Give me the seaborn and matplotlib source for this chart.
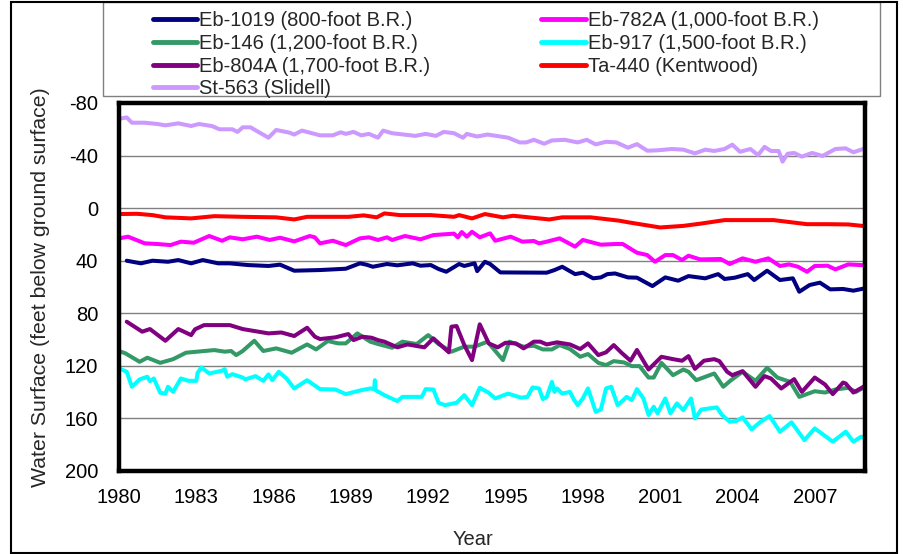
import matplotlib
matplotlib.use('Agg')
import matplotlib.pyplot as plt
from matplotlib.lines import Line2D
from matplotlib.patches import Rectangle
import seaborn as sns
import pandas as pd

# well records, depth to water in feet below ground surface
eb1019_year = [1980.3, 1980.85, 1981.3, 1981.9, 1982.3, 1982.8, 1983.25, 1983.85, 1984.3, 1985.0,
               1985.8, 1986.25, 1986.8, 1987.8, 1988.8, 1989.35, 1989.6, 1989.85, 1990.4, 1990.8,
               1991.4, 1991.7, 1992.1, 1992.4, 1992.7, 1993.2, 1993.4, 1993.8, 1993.9, 1994.2,
               1994.4, 1994.8, 1996.6, 1996.9, 1997.2, 1997.7, 1998.0, 1998.4, 1998.7, 1998.95,
               1999.25, 1999.75, 2000.1, 2000.7, 2001.2, 2001.7, 2002.1, 2002.75, 2003.25, 2003.5,
               2003.9, 2004.4, 2004.65, 2005.15, 2005.65, 2006.15, 2006.4, 2006.8, 2007.2, 2007.6,
               2008.1, 2008.5, 2008.95]
eb1019_depth = [40.0, 42.0, 40.0, 40.8, 39.5, 42.0, 39.5, 42.0, 42.0, 43.3,
                44.0, 43.0, 47.6, 47.1, 46.1, 42.0, 43.0, 44.6, 42.5, 43.5,
                42.0, 43.8, 43.3, 46.3, 48.4, 42.5, 44.0, 42.0, 47.9, 40.8,
                42.5, 48.9, 49.1, 47.1, 44.6, 50.2, 49.1, 53.4, 52.7, 50.2,
                49.7, 52.7, 52.9, 59.3, 52.7, 55.2, 51.7, 53.4, 50.2, 53.9,
                52.9, 50.2, 54.7, 47.6, 54.7, 53.4, 63.6, 58.5, 56.7, 61.8,
                61.5, 62.8, 61.0]

eb782a_year = [1980.0, 1980.35, 1981.0, 1981.5, 1982.0, 1982.4, 1982.9, 1983.5, 1984.0, 1984.3,
               1984.8, 1985.35, 1985.85, 1986.25, 1986.8, 1987.4, 1987.6, 1987.8, 1988.3, 1988.8,
               1989.35, 1989.7, 1990.05, 1990.4, 1990.6, 1991.1, 1991.7, 1992.2, 1993.0, 1993.15,
               1993.3, 1993.5, 1993.7, 1994.0, 1994.4, 1994.6, 1995.2, 1995.65, 1996.1, 1996.3,
               1996.6, 1997.1, 1997.7, 1998.0, 1998.7, 1999.25, 1999.55, 2000.1, 2000.5, 2000.8,
               2001.2, 2001.5, 2001.85, 2002.1, 2002.55, 2003.35, 2003.7, 2004.2, 2004.7, 2005.2,
               2005.65, 2006.0, 2006.35, 2006.7, 2007.0, 2007.5, 2007.8, 2008.3, 2008.95]
eb782a_depth = [23.0, 21.7, 26.8, 27.3, 28.1, 25.5, 26.3, 21.2, 24.8, 22.2,
                23.7, 21.7, 24.2, 22.5, 25.3, 21.2, 22.2, 26.8, 24.8, 28.1,
                23.0, 22.2, 24.2, 22.2, 24.2, 21.2, 23.7, 20.5, 19.4, 22.2,
                18.2, 21.7, 18.0, 22.2, 19.2, 24.8, 21.7, 25.5, 25.0, 26.8,
                25.5, 23.0, 29.3, 24.2, 27.8, 27.3, 27.3, 33.9, 35.7, 40.8,
                35.7, 35.7, 39.5, 36.2, 39.0, 38.7, 42.5, 38.2, 40.8, 38.2,
                44.0, 42.8, 44.6, 48.4, 44.0, 43.8, 46.6, 42.8, 43.5]

eb146_year = [1980.0, 1980.25, 1980.8, 1981.1, 1981.6, 1982.1, 1982.6, 1983.7, 1984.1, 1984.35,
              1984.55, 1984.8, 1985.25, 1985.6, 1986.1, 1986.7, 1987.3, 1987.65, 1988.1, 1988.5,
              1988.8, 1989.25, 1989.75, 1990.05, 1990.6, 1991.0, 1991.55, 1992.0, 1992.4, 1992.9,
              1993.4, 1993.8, 1994.3, 1994.9, 1995.15, 1995.7, 1996.1, 1996.45, 1996.8, 1997.1,
              1997.5, 1997.9, 1998.2, 1998.6, 1998.9, 1999.2, 1999.6, 1999.9, 2000.2, 2000.55,
              2000.75, 2001.05, 2001.5, 2001.9, 2002.1, 2002.4, 2003.1, 2003.45, 2003.75, 2004.2,
              2004.7, 2005.15, 2005.55, 2006.05, 2006.4, 2007.0, 2007.4, 2007.8, 2008.3, 2008.6,
              2008.95]
eb146_depth = [108.7, 110.5, 116.9, 113.8, 117.7, 114.9, 110.0, 108.0, 109.2, 108.7,
               111.8, 108.7, 100.9, 108.7, 106.7, 110.0, 103.7, 107.5, 101.1, 102.9,
               102.9, 95.3, 101.6, 103.4, 106.2, 101.6, 103.4, 96.6, 103.4, 109.2,
               105.4, 105.4, 101.6, 115.6, 101.6, 105.4, 104.7, 107.5, 107.5, 104.2,
               107.2, 113.1, 111.0, 117.7, 119.4, 116.4, 117.4, 120.2, 120.2, 128.9,
               128.9, 117.7, 127.1, 122.8, 124.5, 130.9, 125.8, 135.9, 130.9, 124.5,
               131.4, 121.5, 128.9, 132.2, 143.6, 139.3, 140.3, 138.0, 136.7, 139.8,
               135.9]

eb917_year = [1980.0, 1980.3, 1980.5, 1980.8, 1981.1, 1981.2, 1981.35, 1981.6, 1981.8, 1981.9,
              1982.1, 1982.4, 1982.7, 1983.0, 1983.05, 1983.2, 1983.5, 1984.0, 1984.1, 1984.2,
              1984.4, 1984.8, 1984.9, 1985.3, 1985.6, 1985.8, 1985.95, 1986.2, 1986.5, 1986.8,
              1987.3, 1987.8, 1988.4, 1988.8, 1989.4, 1989.75, 1989.9, 1989.93, 1989.96, 1990.3,
              1990.8, 1991.0, 1991.75, 1991.9, 1992.2, 1992.4, 1992.65, 1993.1, 1993.4, 1993.7,
              1994.0, 1994.35, 1994.6, 1995.1, 1995.6, 1995.85, 1996.05, 1996.3, 1996.45, 1996.6,
              1996.8, 1996.9, 1997.0, 1997.2, 1997.5, 1997.65, 1997.8, 1998.0, 1998.2, 1998.5,
              1998.7, 1998.9, 1999.1, 1999.35, 1999.5, 1999.7, 1999.9, 2000.1, 2000.35, 2000.55,
              2000.75, 2000.9, 2001.2, 2001.4, 2001.65, 2001.9, 2002.2, 2002.35, 2002.6, 2003.2,
              2003.4, 2003.7, 2003.95, 2004.2, 2004.55, 2004.9, 2005.25, 2005.65, 2006.1, 2006.6,
              2007.0, 2007.7, 2008.2, 2008.5, 2008.8, 2008.95]
eb917_depth = [121.9, 124.5, 135.9, 130.3, 128.3, 131.6, 129.6, 140.5, 141.1, 135.9,
               139.8, 129.6, 131.4, 131.4, 125.3, 121.2, 125.8, 123.7, 122.5, 128.3,
               126.3, 128.9, 130.3, 127.8, 131.4, 126.5, 130.9, 124.5, 129.6, 137.2,
               130.9, 137.7, 138.0, 141.5, 138.5, 137.2, 137.7, 130.9, 138.5, 142.3,
               146.8, 143.6, 143.6, 137.7, 138.0, 148.1, 149.9, 148.1, 142.3, 149.9,
               136.7, 140.5, 144.8, 141.1, 144.2, 143.6, 136.4, 137.2, 145.3, 143.6,
               132.2, 139.8, 137.2, 141.1, 139.8, 145.6, 149.9, 144.8, 137.2, 155.0,
               153.2, 137.2, 135.9, 149.9, 147.3, 143.6, 146.1, 137.7, 144.8, 157.4,
               151.1, 156.1, 144.8, 156.1, 148.6, 153.7, 144.8, 160.0, 153.2, 151.6,
               157.4, 162.5, 162.0, 159.2, 168.3, 162.5, 158.2, 170.1, 163.0, 176.5,
               167.6, 177.7, 170.1, 177.7, 173.9, 175.2]

eb804a_year = [1980.3, 1980.9, 1981.2, 1981.8, 1982.3, 1982.8, 1982.95, 1983.3, 1984.3, 1984.8,
               1985.8, 1986.3, 1986.8, 1987.3, 1987.6, 1987.8, 1988.4, 1988.9, 1989.1, 1989.45,
               1989.8, 1990.05, 1990.3, 1990.8, 1991.2, 1991.85, 1992.2, 1992.8, 1992.9, 1993.1,
               1993.4, 1993.7, 1994.0, 1994.35, 1994.7, 1995.0, 1995.4, 1995.7, 1996.1, 1996.35,
               1996.6, 1997.0, 1997.5, 1997.9, 1998.2, 1998.6, 1998.9, 1999.2, 1999.5, 1999.85,
               2000.1, 2000.55, 2001.05, 2001.5, 2001.85, 2002.1, 2002.35, 2002.7, 2003.1, 2003.3,
               2003.6, 2003.8, 2004.2, 2004.7, 2005.05, 2005.3, 2005.7, 2006.2, 2006.5, 2007.0,
               2007.4, 2007.7, 2008.1, 2008.2, 2008.5, 2008.95]
eb804a_depth = [86.4, 94.0, 92.0, 100.9, 92.0, 96.6, 92.2, 89.0, 89.0, 92.0,
                95.3, 94.6, 97.3, 91.0, 97.8, 99.6, 98.3, 95.8, 100.4, 97.8,
                98.6, 100.4, 101.6, 105.9, 103.7, 105.9, 99.1, 109.7, 90.2, 89.7,
                104.2, 115.6, 88.4, 102.9, 105.9, 102.4, 102.9, 106.7, 101.6, 101.6,
                103.7, 102.1, 103.7, 107.2, 102.9, 111.8, 109.7, 104.2, 110.0, 116.1,
                107.9, 122.8, 113.1, 114.9, 116.1, 112.6, 122.3, 116.1, 114.9, 116.4,
                124.5, 127.1, 124.0, 135.9, 127.8, 129.6, 137.2, 130.1, 139.8, 128.9,
                134.2, 141.5, 132.7, 133.4, 140.3, 135.2]

ta440_year = [1980.0, 1980.7, 1981.3, 1981.8, 1982.8, 1983.7, 1984.8, 1986.1, 1986.8, 1987.3,
              1988.9, 1989.5, 1990.0, 1990.3, 1990.9, 1992.1, 1993.0, 1993.2, 1993.7, 1994.2,
              1994.9, 1995.3, 1996.7, 1997.2, 1998.3, 1999.4, 1999.8, 2001.0, 2001.9, 2002.6,
              2003.5, 2004.6, 2005.4, 2006.7, 2007.5, 2008.3, 2008.95]
ta440_depth = [4.5, 4.3, 5.3, 7.0, 7.8, 6.1, 6.6, 7.0, 8.6, 6.6,
               6.6, 5.5, 7.0, 4.0, 5.3, 5.3, 6.6, 5.3, 7.8, 4.5,
               7.0, 5.8, 8.6, 7.0, 7.0, 9.5, 10.9, 14.7, 13.5, 11.7,
               9.1, 9.1, 9.1, 12.2, 12.2, 12.4, 13.7]

st563_year = [1980.0, 1980.3, 1980.5, 1981.0, 1981.5, 1981.8, 1982.3, 1982.8, 1983.1, 1983.6,
              1983.9, 1984.4, 1984.6, 1984.8, 1985.1, 1985.8, 1986.1, 1986.6, 1986.8, 1987.1,
              1987.8, 1988.3, 1988.6, 1988.8, 1989.1, 1989.4, 1989.7, 1990.05, 1990.25, 1990.6,
              1991.5, 1991.9, 1992.3, 1992.6, 1993.0, 1993.35, 1993.5, 1993.9, 1994.3, 1995.1,
              1995.55, 1995.8, 1996.1, 1996.5, 1996.8, 1997.3, 1997.8, 1998.15, 1998.5, 1998.9,
              1999.3, 1999.75, 2000.1, 2000.5, 2000.9, 2001.45, 2001.9, 2002.35, 2002.75, 2003.1,
              2003.5, 2003.8, 2004.1, 2004.5, 2004.8, 2005.05, 2005.3, 2005.6, 2005.75, 2005.95,
              2006.2, 2006.5, 2006.9, 2007.3, 2007.8, 2008.2, 2008.5, 2008.95]
st563_depth = [-68.0, -69.0, -65.0, -65.0, -64.0, -63.0, -64.5, -62.5, -64.0, -62.5,
               -60.0, -60.0, -58.0, -61.5, -61.5, -53.6, -59.5, -57.5, -56.0, -59.0,
               -55.4, -55.4, -57.7, -56.5, -58.0, -55.4, -56.5, -53.6, -59.0, -57.0,
               -55.0, -56.5, -55.0, -58.0, -57.0, -53.6, -56.5, -54.5, -56.0, -53.6,
               -50.0, -50.0, -52.0, -49.0, -51.5, -52.0, -50.0, -52.0, -48.5, -50.5,
               -50.0, -46.0, -48.7, -43.7, -44.0, -45.0, -44.5, -41.7, -44.5, -43.5,
               -45.0, -48.3, -42.9, -45.0, -40.4, -46.6, -43.5, -43.5, -35.4, -41.4,
               -42.0, -39.2, -42.0, -39.7, -45.0, -45.5, -42.5, -45.5]

well_names = ['Eb-1019 (800-foot B.R.)', 'Eb-782A (1,000-foot B.R.)', 'Eb-146 (1,200-foot B.R.)',
              'Eb-917 (1,500-foot B.R.)', 'Eb-804A (1,700-foot B.R.)', 'Ta-440 (Kentwood)',
              'St-563 (Slidell)']
well_colors = ['#000080', '#FF00FF', '#339966', '#00FFFF', '#800080', '#FF0000', '#CC99FF']
year_ticks = [1980, 1983, 1986, 1989, 1992, 1995, 1998, 2001, 2004, 2007]
depth_ticks = [-80, -40, 0, 40, 80, 120, 160, 200]

records = [(eb1019_year, eb1019_depth), (eb782a_year, eb782a_depth), (eb146_year, eb146_depth),
           (eb917_year, eb917_depth), (eb804a_year, eb804a_depth), (ta440_year, ta440_depth),
           (st563_year, st563_depth)]
df = pd.concat([pd.DataFrame({'Year': yr, 'Depth': dp, 'Well': name})
                for (yr, dp), name in zip(records, well_names)], ignore_index=True)

sns.set_style('white')
plt.rcParams['font.family'] = ['Liberation Sans', 'DejaVu Sans']
plt.rcParams['axes.unicode_minus'] = False

fig = plt.figure(figsize=(9.04, 5.54), dpi=100)
ax = fig.add_axes([119 / 904, 83 / 554, 746 / 904, 368 / 554])

sns.lineplot(data=df, x='Year', y='Depth', hue='Well', hue_order=well_names,
             palette=well_colors, estimator=None, sort=False, linewidth=2.9,
             legend=False, ax=ax)

ax.set_xlim(1980, 2008.95)
ax.set_ylim(200, -80)
ax.set_xticks(year_ticks)
ax.set_yticks(depth_ticks)
ax.grid(axis='y', color='#808080', linewidth=1)
ax.grid(axis='x', visible=False)
for s in ax.spines.values():
    s.set_color('black')
    s.set_linewidth(3.2)
ax.tick_params(axis='both', direction='out', length=4, width=1, color='#808080',
               labelsize=14.5, colors='black')
ax.tick_params(axis='x', pad=8)
ax.tick_params(axis='y', pad=11)
ax.tick_params(axis='both', color='#808080')

ax.set_xlabel('Year', fontsize=14.5)
ax.set_ylabel('Water Surface (feet below ground surface)', fontsize=15.3)
ax.xaxis.set_label_coords((473 - 119) / 746, -0.16)
ax.yaxis.set_label_coords((50 - 119) / 746, 0.5)

# legend: Excel fills rows first, so reorder for column-wise filling
order = [0, 2, 4, 6, 1, 3, 5]
handles = [Line2D([], [], color=well_colors[i], linewidth=3.5) for i in order]
labels = [well_names[i] for i in order]
fig.legend(handles, labels, loc='upper left', bbox_to_anchor=(153 / 904, 1 - 11 / 554),
           ncol=2, frameon=False, fontsize=14.5, handlelength=2.2, handletextpad=0.1,
           columnspacing=5.5, labelspacing=0.19, borderpad=0, borderaxespad=0)

fig.patches.append(Rectangle((103 / 904, 1 - 96 / 554), 777 / 904, 94 / 554,
                             transform=fig.transFigure, fill=False,
                             edgecolor='#808080', linewidth=1))
fig.patches.append(Rectangle((11 / 904, 1 / 554), 886 / 904, 551 / 554,
                             transform=fig.transFigure, fill=False,
                             edgecolor='black', linewidth=1.5))

fig.savefig('out.png', dpi=100)
